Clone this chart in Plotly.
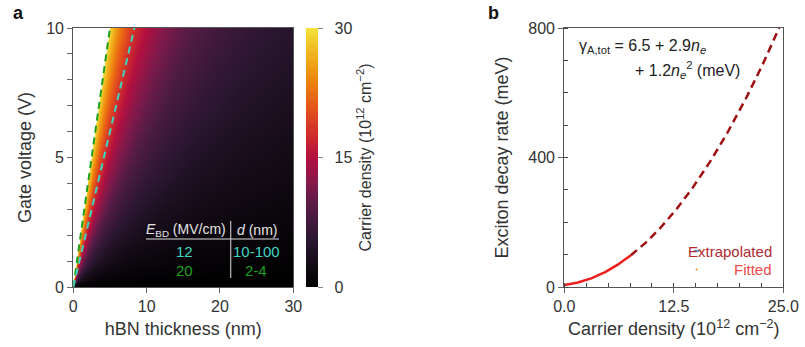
import numpy as np
import plotly.graph_objects as go

# ---- data ----
# panel a: carrier density n = k * V / d  (10^12 cm^-2), masked above breakdown field
density_per_field = 15.0          # 10^12 cm^-2 per (V/nm)
breakdown_fields = [20, 12]       # MV/cm  (green, teal)
breakdown_labels = ["20", "12"]
thickness_ranges = ["2-4", "10-100"]
n_max = 30
colorbar_ticks = [0, 15, 30]
thickness_range = [0, 30]
voltage_range = [0, 10]

# panel b: fitted decay rate gamma = c0 + c1 n + c2 n^2
fit_coeffs = [6.5, 2.9, 1.2]
fit_end = 7.6                     # end of fitted range (10^12 cm^-2)
density_range = [0, 25]
rate_range = [0, 800]

# ---- derived grids ----
d = np.linspace(0.025, 29.975, 600)
V = np.linspace(0.025, 9.975, 200)
DD, VV = np.meshgrid(d, V)
field = VV / DD                    # V/nm ; 1 V/nm = 10 MV/cm
Z = density_per_field * field
Z = np.where(field > breakdown_fields[0] / 10.0, np.nan, Z)
Z = np.clip(Z, 0, n_max)

colorscale = [
    [0.0, "#000000"], [0.08, "#120a14"], [0.18, "#2a1630"], [0.3, "#521c45"],
    [0.4, "#83194b"], [0.5, "#b3103f"], [0.6, "#d3302a"], [0.7, "#e6581a"],
    [0.8, "#ee860e"], [0.9, "#f1b31f"], [1.0, "#f2e23c"],
]

FONT = "Liberation Sans, Arial, sans-serif"
TXT = "#333333"
NBSP = "\u00a0"

CB_TOP, CB_BOT = 28, 287
fig = go.Figure()
fig.add_trace(go.Heatmap(
    x=d, y=V, z=Z, zmin=0, zmax=n_max, colorscale=colorscale,
    xaxis="x", yaxis="y", hoverinfo="skip",
    colorbar=dict(
        x=306 / 805, xanchor="left", y=(347 - CB_BOT) / 347, yanchor="bottom",
        len=(CB_BOT - CB_TOP) / 347, lenmode="fraction", thickness=12,
        tickvals=colorbar_ticks, ticktext=[NBSP * 2 + str(v) for v in colorbar_ticks],
        ticks="outside", ticklen=5, tickcolor="#888",
        outlinewidth=0, xpad=0, ypad=0,
        tickfont=dict(size=16, color=TXT),
        title=dict(text="Carrier density (10<sup>12</sup> cm<sup>−2</sup>)", side="right",
                   font=dict(size=16, color=TXT)),
    ),
))

line_colors = ["#1ea01e", "#3fd6c0"]
for E, c in zip(breakdown_fields, line_colors):
    Ev = E / 10.0
    fig.add_trace(go.Scatter(
        x=[0, voltage_range[1] / Ev], y=[0, voltage_range[1]], mode="lines",
        line=dict(color=c, width=2, dash="7px,5px"), xaxis="x", yaxis="y",
        showlegend=False, hoverinfo="skip"))

# panel b curves
def gamma(n):
    return fit_coeffs[0] + fit_coeffs[1] * n + fit_coeffs[2] * n ** 2

n_fit = np.linspace(0, fit_end, 80)
n_ext = np.linspace(fit_end, density_range[1], 200)
fig.add_trace(go.Scatter(x=n_ext, y=gamma(n_ext), mode="lines",
                         line=dict(color="#9e0f12", width=2.5, dash="8px,5px"),
                         xaxis="x2", yaxis="y2", showlegend=False, hoverinfo="skip"))
fig.add_trace(go.Scatter(x=n_fit, y=gamma(n_fit), mode="lines",
                         line=dict(color="#ee1e1e", width=2.5),
                         xaxis="x2", yaxis="y2", showlegend=False, hoverinfo="skip"))
# tiny legend markers
fig.add_trace(go.Scatter(x=[15.1], y=[111], mode="markers",
                         marker=dict(symbol="line-ew", size=4, line=dict(color="#3070c0", width=1.5)),
                         xaxis="x2", yaxis="y2", showlegend=False, hoverinfo="skip"))
fig.add_trace(go.Scatter(x=[15.1], y=[54], mode="markers",
                         marker=dict(symbol="circle", size=2, color="#f08020"),
                         xaxis="x2", yaxis="y2", showlegend=False, hoverinfo="skip"))

ax_common = dict(showline=True, linecolor="#555", linewidth=1.2, mirror=True,
                 showgrid=False, zeroline=False, ticks="outside", ticklen=5,
                 tickcolor="#666", tickfont=dict(size=16, color=TXT), automargin=False)

ya = (347 - 287) / 347
yb = (347 - 28) / 347
fig.update_layout(
    width=805, height=347, margin=dict(l=0, r=0, t=0, b=0, autoexpand=False),
    paper_bgcolor="white", plot_bgcolor="white",
    font=dict(family=FONT, color=TXT),
    xaxis=dict(ax_common, domain=[73.3 / 805, 293.3 / 805], range=thickness_range,
               tickvals=[0, 10, 20, 30],
               title=dict(text="hBN thickness (nm)", font=dict(size=18), standoff=8)),
    yaxis=dict(ax_common, domain=[ya, yb], range=voltage_range, tickvals=[0, 5, 10],
               minor=dict(dtick=1, ticks="outside", ticklen=5, tickcolor="#666"),
               title=dict(text="Gate voltage (V)", font=dict(size=18), standoff=9)),
    xaxis2=dict(ax_common, domain=[564.3 / 805, 783.3 / 805], range=density_range,
                tickvals=[0, 12.5, 25], tickformat=".1f", anchor="y2",
                minor=dict(dtick=2.5, ticks="inside", ticklen=4, tickcolor="#444"),
                title=dict(text="Carrier density (10<sup>12</sup> cm<sup>−2</sup>)",
                           font=dict(size=18), standoff=8)),
    yaxis2=dict(ax_common, domain=[ya, yb], range=rate_range, tickvals=[0, 400, 800],
                anchor="x2",
                minor=dict(dtick=100, ticks="inside", ticklen=4, tickcolor="#444"),
                title=dict(text="Exciton decay rate (meV)", font=dict(size=18), standoff=14)),
)

def px(xp, yp):
    return xp / 805, 1 - yp / 347

ann = []
x0, y0 = px(11, 13)
ann.append(dict(x=x0, y=y0, xref="paper", yref="paper", text="<b>a</b>",
                showarrow=False, font=dict(size=18, color="#111"), xanchor="left", yanchor="middle"))
x0, y0 = px(486, 13)
ann.append(dict(x=x0, y=y0, xref="paper", yref="paper", text="<b>b</b>",
                showarrow=False, font=dict(size=18, color="#111"), xanchor="left", yanchor="middle"))

# table in panel a
hdr_col = "#e4e4e4"
x0, y0 = px(186, 230)
ann.append(dict(x=x0, y=y0, xref="paper", yref="paper",
                text="<i>E</i><sub>BD</sub> (MV/cm)", showarrow=False,
                font=dict(size=14, color=hdr_col), xanchor="center", yanchor="middle"))
x0, y0 = px(257, 230)
ann.append(dict(x=x0, y=y0, xref="paper", yref="paper", text="<i>d</i> (nm)",
                showarrow=False, font=dict(size=14, color=hdr_col), xanchor="center", yanchor="middle"))
row_y = [270, 251]
for lab, rng, c, ry in zip(breakdown_labels, thickness_ranges, line_colors, row_y):
    x0, y0 = px(184, ry)
    ann.append(dict(x=x0, y=y0, xref="paper", yref="paper", text=lab, showarrow=False,
                    font=dict(size=15, color=c), xanchor="center", yanchor="middle"))
    x0, y0 = px(256, ry)
    ann.append(dict(x=x0, y=y0, xref="paper", yref="paper", text=rng, showarrow=False,
                    font=dict(size=15, color=c), xanchor="center", yanchor="middle"))

# equation in panel b
x0, y0 = px(577, 46)
ann.append(dict(x=x0, y=y0, xref="paper", yref="paper",
                text="γ<sub>A,tot</sub> = 6.5 + 2.9<i>n</i><sub><i>e</i></sub>",
                showarrow=False, font=dict(size=16, color="#222"), xanchor="left", yanchor="middle"))
x0, y0 = px(633, 70)
ann.append(dict(x=x0, y=y0, xref="paper", yref="paper",
                text="+ 1.2<i>n</i><sub><i>e</i></sub><sup>2</sup> (meV)",
                showarrow=False, font=dict(size=16, color="#222"), xanchor="left", yanchor="middle"))
# legend texts
x0, y0 = px(774, 251)
ann.append(dict(x=x0, y=y0, xref="paper", yref="paper", text="Extrapolated", showarrow=False,
                font=dict(size=15, color="#b02a30"), xanchor="right", yanchor="middle"))
x0, y0 = px(774, 269)
ann.append(dict(x=x0, y=y0, xref="paper", yref="paper", text="Fitted", showarrow=False,
                font=dict(size=15, color="#ee4a4a"), xanchor="right", yanchor="middle"))

fig.update_layout(annotations=ann)

# table lines (paper coords)
hx0, hy = px(146, 239)
hx1, _ = px(279, 239)
fig.add_shape(type="line", xref="paper", yref="paper", x0=hx0, x1=hx1, y0=hy, y1=hy,
              line=dict(color="#dddddd", width=1.2))
vx, vy0 = px(230.7, 221)
_, vy1 = px(230.7, 278)
fig.add_shape(type="line", xref="paper", yref="paper", x0=vx, x1=vx, y0=vy0, y1=vy1,
              line=dict(color="#bbbbbb", width=1.2))

fig.write_html("out.html")
